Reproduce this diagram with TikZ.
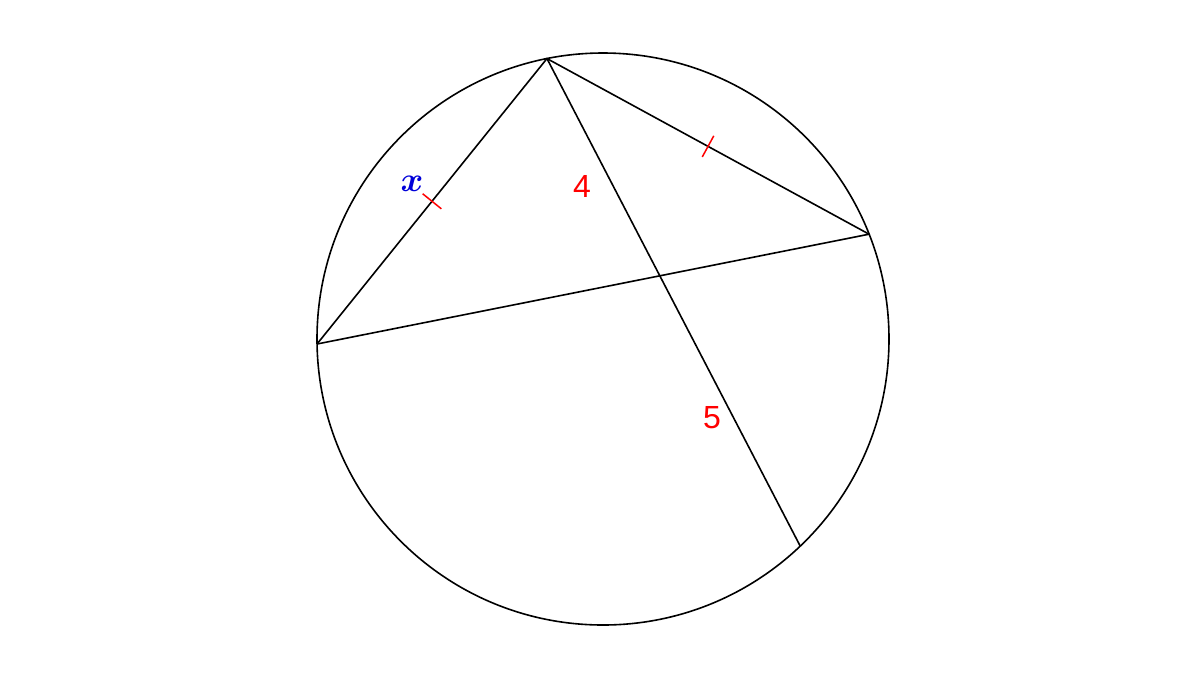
\documentclass[tikz,border=0pt]{standalone}
\usepackage{fontspec}
\usepackage{bm}
\setsansfont{Liberation Sans}
\usetikzlibrary{calc}
\tikzset{
  tick/.style = {red, line width = .75pt},
  seglabel/.style = {red, font = \fontsize{16}{18}\sffamily},
}
\begin{document}
\begin{tikzpicture}[x = .5pt, y = -.5pt, line width = .8pt]
  \useasboundingbox (0,0) rectangle (1200,677);
    \coordinate (o) at (603,339);
    \coordinate (a) at ($(o)+(-101.3:286)$);
    \coordinate (b) at ($(o)+(-21.5:286)$);
    \coordinate (c) at ($(o)+(179:286)$);
    \coordinate (d) at ($(o)+(46.4:286)$);
    \draw (o) circle[radius = 143pt];
    \draw (c) -- (a) -- (b);
    \draw (a) -- (d);
    \draw (c) -- (b);
    % Tick marks on equal chords
    \coordinate (mac) at ($(a)!.5!(c)$);
    \coordinate (mab) at ($(a)!.5!(b)$);
    \draw[tick] ($(mac)!6pt!90:(a)$) -- ($(mac)!6pt!-90:(a)$);
    \draw[tick] ($(mab)!6pt!90:(a)$) -- ($(mab)!6pt!-90:(a)$);
    % Labels
    \node[blue!85!black, font = \fontsize{18}{20}\selectfont] (xlab) at (412,184) {$\bm{x}$};
    \node[seglabel] (four) at (582,186) {4};
    \node[seglabel] (five) at (712,418) {5};
  \end{tikzpicture}
\end{document}
